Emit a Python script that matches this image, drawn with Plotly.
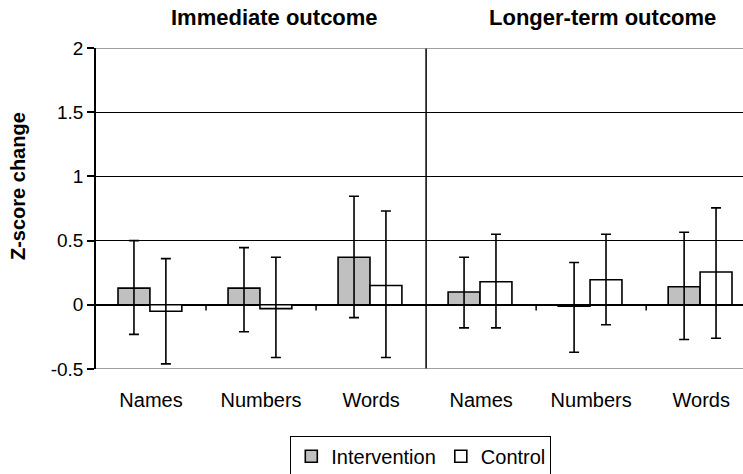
import plotly.graph_objects as go

# ---- data ----
categories = ["Names", "Numbers", "Words", "Names", "Numbers", "Words"]
panels = ["Immediate outcome", "Longer-term outcome"]
series_names = ["Intervention", "Control"]
y_title = "Z-score change"

intervention = [0.13, 0.13, 0.37, 0.10, -0.01, 0.14]
intervention_hi = [0.50, 0.445, 0.845, 0.37, 0.33, 0.565]
intervention_lo = [-0.23, -0.21, -0.10, -0.18, -0.37, -0.27]

control = [-0.05, -0.03, 0.15, 0.18, 0.195, 0.255]
control_hi = [0.36, 0.37, 0.73, 0.55, 0.55, 0.755]
control_lo = [-0.46, -0.41, -0.41, -0.18, -0.155, -0.26]

y_ticks = [-0.5, 0, 0.5, 1, 1.5, 2]
y_ticklabels = ["-0.5", "0", "0.5", "1", "1.5", "2"]

xpos = list(range(len(categories)))
FONT = "Liberation Sans, Arial, sans-serif"

def err(vals, hi, lo):
    return dict(type="data", symmetric=False,
                array=[h - v for v, h in zip(vals, hi)],
                arrayminus=[v - l for v, l in zip(vals, lo)],
                color="black", thickness=1.6, width=5)

fig = go.Figure()
fig.add_trace(go.Bar(
    x=xpos, y=intervention, name=series_names[0],
    width=0.29, offset=-0.30,
    marker=dict(color="#c0c0c0", line=dict(color="black", width=1.6)),
    error_y=err(intervention, intervention_hi, intervention_lo),
))
fig.add_trace(go.Bar(
    x=xpos, y=control, name=series_names[1],
    width=0.29, offset=-0.01,
    marker=dict(color="white", line=dict(color="black", width=1.6)),
    error_y=err(control, control_hi, control_lo),
))

shapes = []
# small tick marks on zero line between categories
for b in [0.5, 1.5, 3.5, 4.5]:
    shapes.append(dict(type="line", xref="x", yref="y", x0=b, x1=b, y0=0, y1=-0.045,
                       line=dict(color="black", width=1.5)))
# panel separator
shapes.append(dict(type="line", xref="x", yref="paper", x0=2.5, x1=2.5, y0=0, y1=1,
                   line=dict(color="black", width=1.5)))
# top and bottom frame lines
for yy in [2, -0.5]:
    shapes.append(dict(type="line", xref="paper", yref="y", x0=0, x1=1, y0=yy, y1=yy,
                       line=dict(color="#808080", width=1.5)))

annotations = [
    dict(text="<b>" + panels[0] + "</b>", x=1.12, y=1.0, xref="x", yref="paper",
         yanchor="middle", yshift=31, showarrow=False,
         font=dict(size=22, family=FONT, color="black")),
    dict(text="<b>" + panels[1] + "</b>", x=4.1, y=1.0, xref="x", yref="paper",
         yanchor="middle", yshift=31, showarrow=False,
         font=dict(size=22, family=FONT, color="black")),
    dict(text="<b>" + y_title + "</b>", x=0, y=0.57, xref="paper", yref="paper",
         xanchor="center", yanchor="middle", xshift=-78, textangle=-90,
         showarrow=False, font=dict(size=20, family=FONT, color="black")),
]

fig.update_layout(
    width=743, height=474,
    margin=dict(l=96, r=0, t=48, b=105, autoexpand=False),
    paper_bgcolor="white", plot_bgcolor="white",
    font=dict(family=FONT, color="black"),
    barmode="overlay",
    shapes=shapes, annotations=annotations,
    showlegend=True,
    legend=dict(orientation="h", x=0.502, xanchor="center", y=-0.208, yanchor="top",
                bordercolor="black", borderwidth=1, font=dict(size=20, family=FONT),
                itemwidth=30, tracegroupgap=0, traceorder="normal"),
    xaxis=dict(range=[-0.5, 5.38], tickvals=xpos, ticktext=categories,
               showgrid=False, zeroline=False, showline=False, ticks="",
               tickfont=dict(size=20, family=FONT, color="black"),
               ticklabelstandoff=17, fixedrange=True, automargin=False),
    yaxis=dict(range=[-0.5, 2], tickvals=y_ticks, ticktext=y_ticklabels,
               showgrid=True, gridcolor="black", gridwidth=1.2,
               zeroline=True, zerolinecolor="black", zerolinewidth=1.5,
               showline=True, linecolor="black", linewidth=1.5,
               ticks="outside", ticklen=7, tickcolor="black", tickwidth=1.5,
               tickfont=dict(size=19, family=FONT, color="black"),
               automargin=False),
)

fig.write_html("out.html", config={"displayModeBar": False},
               post_script="document.body.style.margin='0';")
